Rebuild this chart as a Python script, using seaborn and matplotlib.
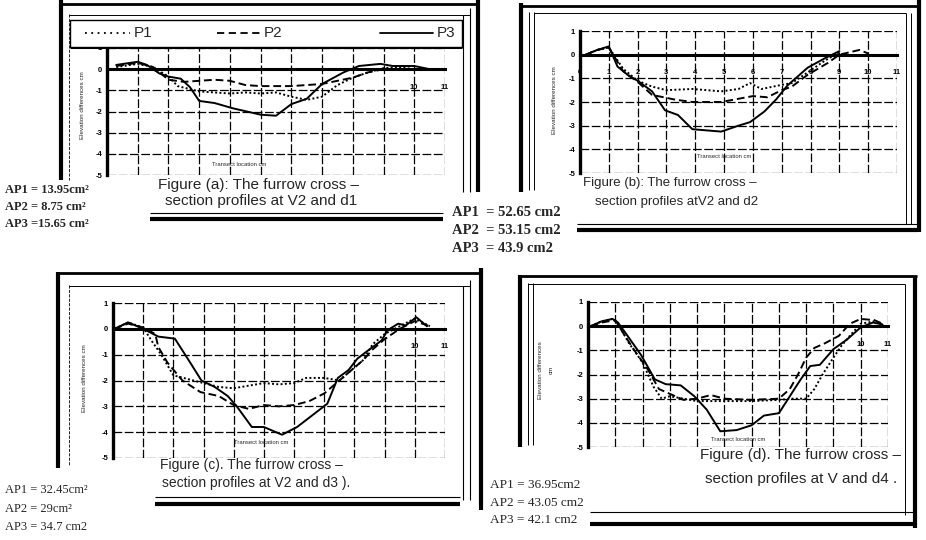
import numpy as np
import pandas as pd
import matplotlib
matplotlib.use("Agg")
import matplotlib.pyplot as plt
import seaborn as sns
from matplotlib.lines import Line2D
from matplotlib.patches import Rectangle

sns.set_theme(style="white")
plt.rcParams['font.family'] = ['Liberation Sans', 'DejaVu Sans']
plt.rcParams['axes.unicode_minus'] = False

W, H = 926, 540
profiles = ["P1", "P2", "P3"]
x_ticks = list(range(12))
y_ticks = [1, 0, -1, -2, -3, -4, -5]
y_tick_labels = ["1", "0", "-1", "-2", "-3", "-4", "-5"]

# ---- Panel (a) ----
a_p1_x = [0.3, 1.0, 1.5, 2.0, 2.3, 3.0, 3.5, 4.0, 4.5, 5.0, 5.5, 6.0, 6.5, 7.0, 7.5, 8.0, 8.5, 9.0, 9.5, 10.0]
a_p1_y = [0.1, 0.25, 0.1, -0.35, -0.8, -1.05, -1.1, -1.15, -1.1, -1.15, -1.1, -1.3, -1.45, -1.3, -0.75, -0.4, -0.15, 0.05, 0.1, 0.0]
a_p2_x = [0.3, 1.0, 1.5, 2.0, 2.5, 3.0, 3.5, 4.0, 4.5, 5.0, 5.5, 6.0, 6.5, 7.0, 7.5, 8.0, 8.5, 9.0, 10.0]
a_p2_y = [0.15, 0.3, 0.1, -0.5, -0.6, -0.55, -0.5, -0.55, -0.75, -0.8, -0.8, -0.8, -0.75, -0.7, -0.55, -0.4, -0.15, 0.0, 0.0]
a_p3_x = [0.3, 1.0, 1.3, 1.7, 2.0, 2.4, 2.7, 3.0, 3.5, 4.1, 5.0, 5.5, 6.0, 6.5, 7.0, 7.7, 8.2, 8.9, 9.3, 10.0, 10.5]
a_p3_y = [0.2, 0.35, 0.2, -0.2, -0.35, -0.45, -0.85, -1.5, -1.6, -1.85, -2.15, -2.2, -1.65, -1.4, -0.7, -0.15, 0.15, 0.25, 0.15, 0.15, 0.0]

# ---- Panel (b) ----
b_p1_x = [0.2, 0.6, 1.0, 1.5, 2.0, 2.5, 3.0, 3.9, 4.9, 5.5, 5.9, 6.3, 6.9, 7.35, 7.9, 8.5, 9.0]
b_p1_y = [0.0, 0.2, 0.3, -0.6, -1.1, -1.35, -1.5, -1.45, -1.55, -1.45, -1.2, -1.45, -1.3, -1.2, -0.75, -0.25, 0.1]
b_p2_x = [0.2, 0.6, 1.0, 1.5, 2.0, 2.5, 3.3, 3.9, 4.9, 6.0, 6.5, 7.0, 7.35, 7.9, 8.6, 9.0, 9.7, 10.0]
b_p2_y = [0.0, 0.2, 0.3, -0.7, -1.15, -1.7, -1.9, -2.0, -2.0, -1.75, -1.8, -1.5, -1.35, -0.85, -0.35, 0.0, 0.2, 0.05]
b_p3_x = [0.2, 0.6, 1.0, 1.3, 1.7, 2.0, 2.5, 2.95, 3.4, 3.9, 4.9, 5.5, 5.9, 6.4, 6.8, 7.2, 7.9, 8.5, 9.0]
b_p3_y = [0.0, 0.2, 0.35, -0.5, -0.9, -1.1, -1.55, -2.35, -2.55, -3.15, -3.25, -3.0, -2.85, -2.4, -1.9, -1.3, -0.55, -0.15, 0.15]

# ---- Panel (c) ----
c_p1_x = [0.05, 0.5, 1.0, 1.3, 1.6, 2.0, 2.5, 3.0, 3.5, 4.0, 4.5, 5.0, 5.5, 6.0, 6.4, 7.0, 7.5, 8.0, 8.3, 8.6, 9.0, 9.5, 10.0, 10.5]
c_p1_y = [0.0, 0.25, 0.05, -0.5, -1.0, -1.8, -1.95, -2.1, -2.25, -2.3, -2.2, -2.1, -2.15, -2.1, -1.9, -1.9, -2.0, -1.5, -1.2, -0.6, -0.2, 0.1, 0.4, 0.1]
c_p2_x = [0.05, 0.5, 1.0, 1.4, 1.5, 1.8, 2.3, 2.9, 3.5, 4.0, 4.5, 5.0, 5.5, 6.0, 6.5, 7.0, 7.5, 8.0, 8.3, 8.6, 9.0, 9.5, 10.0, 10.5]
c_p2_y = [0.0, 0.2, 0.05, -0.2, -0.7, -1.3, -2.0, -2.45, -2.6, -2.95, -3.1, -2.95, -3.0, -2.95, -2.8, -2.5, -2.0, -1.5, -1.2, -0.8, -0.4, 0.0, 0.3, 0.1]
c_p3_x = [0.05, 0.5, 1.0, 1.5, 2.05, 2.5, 2.93, 3.37, 3.8, 4.1, 4.6, 5.0, 5.6, 6.1, 6.6, 7.1, 7.45, 7.8, 8.1, 8.55, 8.9, 9.1, 9.45, 9.7, 10.05, 10.4]
c_p3_y = [0.0, 0.25, 0.0, -0.3, -0.38, -1.2, -2.0, -2.25, -2.6, -3.0, -3.8, -3.8, -4.1, -3.8, -3.35, -2.9, -1.9, -1.6, -1.15, -0.75, -0.45, -0.05, 0.2, 0.13, 0.45, 0.1]

# ---- Panel (d) ----
d_p1_x = [0.1, 0.5, 0.9, 1.1, 1.5, 2.0, 2.4, 2.7, 3.0, 3.5, 4.0, 5.0, 6.0, 7.0, 7.5, 8.0, 8.3, 8.6, 9.0, 9.3, 9.6, 10.0, 10.5, 10.8]
d_p1_y = [0.0, 0.2, 0.3, 0.1, -0.7, -1.5, -2.5, -3.0, -2.9, -3.0, -3.1, -3.1, -3.1, -3.05, -3.0, -3.0, -2.6, -2.0, -1.3, -0.8, -0.4, 0.1, 0.2, 0.05]
d_p2_x = [0.1, 0.5, 1.0, 1.3, 1.7, 2.2, 2.6, 3.0, 3.5, 4.0, 4.5, 5.0, 6.0, 7.0, 7.4, 7.7, 8.0, 8.3, 8.7, 9.2, 9.6, 10.0, 10.5, 10.8]
d_p2_y = [0.0, 0.15, 0.25, -0.3, -1.0, -1.8, -2.6, -2.8, -3.05, -3.0, -2.85, -3.0, -3.05, -3.0, -2.6, -2.0, -1.3, -0.9, -0.7, -0.4, 0.1, 0.3, 0.25, 0.1]
d_p3_x = [0.1, 0.5, 0.9, 1.1, 1.45, 1.95, 2.45, 2.85, 3.4, 3.9, 4.35, 4.85, 5.45, 6.0, 6.45, 7.0, 7.4, 7.8, 8.15, 8.5, 9.0, 9.5, 10.0, 10.45, 10.8]
d_p3_y = [0.0, 0.2, 0.3, 0.15, -0.4, -1.2, -2.2, -2.4, -2.45, -2.9, -3.45, -4.35, -4.3, -4.1, -3.7, -3.6, -2.9, -2.2, -1.65, -1.6, -0.95, -0.55, -0.05, 0.15, 0.07]

panels = {
    "a": [(a_p1_x, a_p1_y), (a_p2_x, a_p2_y), (a_p3_x, a_p3_y)],
    "b": [(b_p1_x, b_p1_y), (b_p2_x, b_p2_y), (b_p3_x, b_p3_y)],
    "c": [(c_p1_x, c_p1_y), (c_p2_x, c_p2_y), (c_p3_x, c_p3_y)],
    "d": [(d_p1_x, d_p1_y), (d_p2_x, d_p2_y), (d_p3_x, d_p3_y)],
}

dash_map = {"P1": (1, 1.2), "P2": (4, 2), "P3": ""}

fig = plt.figure(figsize=(W / 100, H / 100), dpi=100)
fig.patch.set_facecolor("white")


def fx(x):
    return x / W


def fy(y):
    return 1 - y / H


def hline(y, x0, x1, lw, ls="-"):
    fig.add_artist(Line2D([fx(x0), fx(x1)], [fy(y), fy(y)], color="black", lw=lw, ls=ls, solid_capstyle="butt"))


def vline(x, y0, y1, lw, ls="-"):
    fig.add_artist(Line2D([fx(x), fx(x)], [fy(y0), fy(y1)], color="black", lw=lw, ls=ls, solid_capstyle="butt"))


def make_axes(left, right, top, bottom):
    return fig.add_axes([fx(left), fy(bottom), (right - left) / W, (bottom - top) / H])


boxes = {
    "a": (107, 445, 48, 175),
    "b": (580, 897, 31, 173),
    "c": (113, 445, 303, 458),
    "d": (588, 888, 302, 447),
}
xlabel_pos = {"a": (4.3, -4.5), "b": (5.0, -4.3), "c": (4.9, -4.4), "d": (5.5, -4.7)}
shown_xlabels = {"a": {10, 11}, "b": set(range(12)), "c": {10, 11}, "d": {10, 11}}

for key, series in panels.items():
    ax = make_axes(*boxes[key])
    ax.patch.set_alpha(0)
    rows = []
    for prof, (xs, ys) in zip(profiles, series):
        for xv, yv in zip(xs, ys):
            rows.append({"x": xv, "y": yv, "profile": prof})
    df = pd.DataFrame(rows)
    sns.lineplot(data=df, x="x", y="y", style="profile", style_order=profiles,
                 dashes=dash_map, color="black", lw=1.4, sort=False,
                 estimator=None, legend=False, ax=ax)
    ax.set_xlim(0, 11)
    ax.set_ylim(-5, 1)
    ax.set_xticks(x_ticks)
    ax.set_xticklabels([str(t) if t in shown_xlabels[key] else "" for t in x_ticks])
    ax.set_yticks(y_ticks)
    ax.set_yticklabels(y_tick_labels)
    ax.grid(True, color="black", lw=0.9, ls=(0, (7, 2)))
    for s in ["top", "right"]:
        ax.spines[s].set_visible(False)
    ax.spines["bottom"].set_position(("data", 0))
    ax.spines["bottom"].set_linewidth(2.2)
    ax.spines["bottom"].set_color("black")
    ax.spines["left"].set_linewidth(2.4)
    ax.spines["left"].set_color("black")
    ax.tick_params(axis="both", direction="inout", length=3, width=1.3,
                   labelsize=5.5, colors="black")
    ax.tick_params(axis="y", pad=2)
    ax.tick_params(axis="x", pad=9)
    for lab in ax.get_xticklabels() + ax.get_yticklabels():
        lab.set_fontweight("bold")
    ax.set_xlabel("")
    ax.set_ylabel("")
    lx, ly = xlabel_pos[key]
    ax.text(lx, ly, "Transect location cm", fontsize=4.2, ha="center", va="center")

# y labels (rotated)
fig.text(fx(82), fy(105), "Elevation differences cm", rotation=90, fontsize=4.5, ha="center", va="center")
fig.text(fx(555), fy(100), "Elevation differences cm", rotation=90, fontsize=4.5, ha="center", va="center")
fig.text(fx(84), fy(378), "Elevation differences cm", rotation=90, fontsize=4.5, ha="center", va="center")
fig.text(fx(540), fy(370), "Elevation differences", rotation=90, fontsize=4.5, ha="center", va="center")
fig.text(fx(551), fy(370), "cm", rotation=90, fontsize=4.5, ha="center", va="center")

# ---- frames panel (a) ----
vline(61, 0, 180, 3.0)
vline(69, 14, 180, 0.6, "--")
hline(4, 61, 478, 2.0)
hline(15, 69, 470, 0.7)
vline(463, 15, 192, 0.8)
vline(470, 8, 192, 0.8)
vline(478, 0, 192, 3.0)
# legend box
fig.add_artist(Rectangle((fx(70), fy(47)), (462 - 70) / W, (47 - 20) / H, transform=fig.transFigure,
                         facecolor="white", edgecolor="black", lw=1.0, zorder=5))
hline(47, 70, 462, 2.2)
leg_y = 33
fig.add_artist(Line2D([fx(85), fx(130)], [fy(leg_y)] * 2, color="black", lw=1.3, dashes=(1, 2.5), zorder=6))
fig.text(fx(134), fy(leg_y), "P1", fontsize=11, ha="left", va="center", zorder=6)
fig.add_artist(Line2D([fx(217), fx(262)], [fy(leg_y)] * 2, color="black", lw=1.3, dashes=(4, 2.5), zorder=6))
fig.text(fx(264), fy(leg_y), "P2", fontsize=11, ha="left", va="center", zorder=6)
fig.add_artist(Line2D([fx(380), fx(433)], [fy(leg_y)] * 2, color="black", lw=1.3, zorder=6))
fig.text(fx(437), fy(leg_y), "P3", fontsize=11, ha="left", va="center", zorder=6)

# ---- frames panel (b) ----
vline(521, 3, 192, 3.0)
vline(529, 12, 190, 0.7)
vline(534, 12, 190, 0.7)
hline(6, 521, 920, 2.0)
hline(13, 534, 906, 0.7)
vline(919, 0, 232, 3.0)
vline(906, 13, 224, 0.7)
vline(911, 13, 224, 0.7)

# ---- frames panel (c) ----
vline(58, 272, 468, 3.0)
vline(69, 285, 465, 0.6, "--")
hline(273, 58, 482, 2.0)
hline(286, 69, 470, 0.7)
vline(463, 286, 500, 0.8)
vline(470, 280, 500, 0.8)
vline(481, 268, 510, 3.0)

# ---- frames panel (d) ----
vline(520, 275, 447, 3.0)
vline(528, 283, 445, 0.7)
vline(533, 283, 445, 0.7)
hline(276, 520, 917, 2.0)
hline(284, 528, 905, 0.7)
vline(915, 276, 528, 3.0)
vline(905, 284, 515, 0.7)

# ---- captions ----
fig.text(fx(158), fy(185), "Figure (a): The furrow cross \u2013", fontsize=11, ha="left", va="center")
fig.text(fx(165), fy(201), "section profiles at V2 and d1", fontsize=11, ha="left", va="center")
hline(213, 150, 443, 0.8)
hline(219, 150, 443, 3.0)

fig.text(fx(583), fy(183), "Figure (b): The furrow cross \u2013", fontsize=9.5, ha="left", va="center")
fig.text(fx(595), fy(202), "section profiles atV2 and d2", fontsize=9.5, ha="left", va="center")
hline(224, 577, 918, 0.8)
hline(230, 577, 918, 3.0)

fig.text(fx(160), fy(465), "Figure (c). The furrow cross \u2013", fontsize=10, ha="left", va="center")
fig.text(fx(162), fy(483), "section profiles at V2 and d3 ).", fontsize=10, ha="left", va="center")
hline(497, 155, 460, 0.8)
hline(504, 155, 460, 3.0)

fig.text(fx(700), fy(455), "Figure (d). The furrow cross \u2013", fontsize=11, ha="left", va="center")
fig.text(fx(705), fy(479), "section profiles at V and d4 .", fontsize=11, ha="left", va="center")
hline(512, 590, 915, 0.8)
hline(524, 590, 917, 3.0)

# ---- area annotations ----
serif = ["Liberation Serif", "DejaVu Serif"]
a_area = ["AP1 = 13.95cm\u00b2", "AP2 = 8.75 cm\u00b2", "AP3 =15.65 cm\u00b2"]
b_area = ["AP1  = 52.65 cm2", "AP2  = 53.15 cm2", "AP3  = 43.9 cm2"]
c_area = ["AP1 = 32.45cm\u00b2", "AP2 = 29cm\u00b2", "AP3 = 34.7 cm2"]
d_area = ["AP1 = 36.95cm2", "AP2 = 43.05 cm2", "AP3 = 42.1 cm2"]
for txt, yy in zip(a_area, [190, 207, 224]):
    fig.text(fx(5), fy(yy), txt, fontsize=9, family=serif, weight="bold", ha="left", va="center")
for txt, yy in zip(b_area, [213, 231, 248]):
    fig.text(fx(452), fy(yy), txt, fontsize=10.5, family=serif, weight="bold", ha="left", va="center")
for txt, yy in zip(c_area, [490, 509, 527]):
    fig.text(fx(5), fy(yy), txt, fontsize=9, family=serif, ha="left", va="center")
for txt, yy in zip(d_area, [485, 503, 520]):
    fig.text(fx(490), fy(yy), txt, fontsize=9.5, family=serif, ha="left", va="center")

fig.savefig("out.png", dpi=100, facecolor="white")
